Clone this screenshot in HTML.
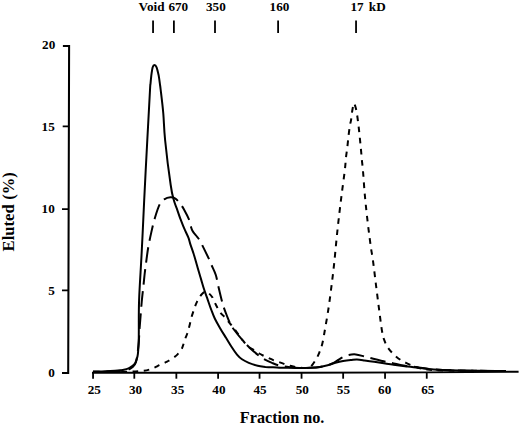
<!DOCTYPE html>
<html><head><meta charset="utf-8"><style>
html,body{margin:0;padding:0;background:#fff;}
body{width:520px;height:425px;overflow:hidden;position:relative;}
svg{position:absolute;left:0;top:0;}
text{font-family:"Liberation Serif",serif;font-weight:bold;fill:#000;}
</style></head><body>
<svg width="520" height="425" viewBox="0 0 520 425">
<g stroke="#000" fill="none" stroke-width="2">
<!-- y axis -->
<path d="M62.9 46 H69.1 L68.2 372.95 H62" stroke-width="2.05" stroke-linejoin="miter"/>
<path d="M62.7 126.45 H69 M62 209.05 H68.8 M62 290.45 H68.5" stroke-width="1.7"/>
<!-- x axis -->
<path d="M92 372.75 L300 372.8 L427 372.4 L518.6 371.7" stroke-width="1.9"/>
<path d="M93.05 372.5 V378.7" stroke-width="1.8"/><path d="M134.30 372.5 V378.7" stroke-width="1.8"/><path d="M176.35 372.5 V378.7" stroke-width="1.8"/><path d="M218.10 372.5 V378.7" stroke-width="1.8"/><path d="M259.55 372.5 V378.7" stroke-width="1.8"/><path d="M301.55 372.5 V378.7" stroke-width="1.8"/><path d="M343.15 372.5 V378.7" stroke-width="1.8"/><path d="M385.05 372.5 V378.7" stroke-width="1.8"/><path d="M426.75 372.5 V378.7" stroke-width="1.8"/>
<!-- top ticks -->
<g stroke-width="1.8"><path d="M153.05 20.4 V32.9"/><path d="M173.90 20.4 V32.9"/><path d="M215.00 20.4 V32.9"/><path d="M278.10 20.4 V32.9"/><path d="M356.05 20.4 V32.9"/></g>
</g>
<g font-size="13.2" text-anchor="end">
<text x="55.3" y="49.1">20</text>
<text x="54.8" y="131.4">15</text>
<text x="54.8" y="213.3">10</text>
<text x="54.8" y="294.6">5</text>
<text x="54.8" y="377.4">0</text>
</g>
<g font-size="13.2" text-anchor="middle">
<text x="94.25" y="393.6">25</text><text x="135.60" y="393.6">30</text><text x="177.70" y="393.6">35</text><text x="218.95" y="393.6">40</text><text x="260.05" y="393.6">45</text><text x="302.25" y="393.6">50</text><text x="343.45" y="393.6">55</text><text x="384.65" y="393.6">60</text><text x="427.85" y="393.6">65</text>
</g>
<g font-size="13.2">
<text x="138.6" y="11">Void</text>
<text x="168.4" y="11">670</text>
<text x="206" y="11">350</text>
<text x="269.6" y="11">160</text>
<text x="350.4" y="11">17</text>
<text x="368.8" y="11">kD</text>
</g>
<text x="282.1" y="422.6" font-size="16.2" text-anchor="middle">Fraction no.</text>
<text transform="translate(14.4 251.4) rotate(-90)" font-size="16.6">Eluted<tspan dx="4.6">(%)</tspan></text>
<g fill="none" stroke="#000" stroke-width="2">
<path d="M93.0 371.6 C95.0 371.6 101.3 371.4 105.0 371.3 C108.7 371.2 112.5 371.0 115.0 370.8 C117.5 370.6 118.5 370.5 120.0 370.3 C121.5 370.1 122.4 370.1 123.8 369.8 C125.2 369.5 127.1 369.0 128.5 368.4 C129.9 367.8 131.1 367.0 132.2 366.1 C133.3 365.2 134.3 364.5 135.1 363.2 C135.9 361.9 136.4 360.1 136.9 358.5 C137.4 356.9 137.6 356.2 137.9 353.8 C138.2 351.4 138.4 347.5 138.6 344.4 C138.8 341.3 138.7 342.4 138.8 335.0 C138.9 327.6 138.6 314.2 139.1 300.0 C139.6 285.8 141.0 266.7 141.8 250.0 C142.7 233.3 143.3 218.3 144.2 200.0 C145.1 181.7 146.3 158.3 147.3 140.0 C148.3 121.7 149.5 99.4 150.0 90.0 C150.5 80.6 150.3 86.2 150.5 83.8 C150.7 81.4 151.0 78.3 151.3 75.6 C151.7 72.9 152.1 69.2 152.6 67.4 C153.1 65.7 153.8 65.1 154.5 65.1 C155.2 65.1 155.9 65.7 156.6 67.4 C157.3 69.2 158.1 72.9 158.7 75.6 C159.2 78.3 159.6 81.4 159.9 83.8 C160.2 86.2 160.1 85.0 160.7 90.0 C161.3 95.0 162.6 105.2 163.3 113.5 C164.0 121.8 163.9 128.1 165.1 140.0 C166.3 151.9 169.2 175.0 170.7 185.0 C172.1 195.0 172.7 195.9 173.8 200.0 C174.9 204.1 176.0 206.3 177.1 209.4 C178.2 212.5 179.2 215.7 180.4 218.8 C181.6 221.9 182.8 225.1 184.1 228.2 C185.4 231.3 187.3 234.9 188.4 237.6 C189.5 240.3 189.5 241.7 190.4 244.4 C191.3 247.1 192.5 250.4 193.6 253.8 C194.7 257.2 195.9 261.6 196.9 265.1 C197.9 268.6 199.1 272.6 199.8 275.0 C200.5 277.4 200.4 277.1 201.1 279.4 C201.8 281.7 202.9 285.7 203.9 288.8 C204.9 291.9 206.0 294.8 207.2 298.2 C208.4 301.6 209.8 306.0 211.1 309.4 C212.4 312.8 213.4 315.7 214.9 318.8 C216.4 321.9 218.2 325.0 220.1 328.2 C221.9 331.4 224.0 334.6 226.0 337.8 C228.0 341.0 230.2 344.7 232.0 347.5 C233.8 350.3 235.3 352.6 237.0 354.6 C238.7 356.6 240.0 357.9 242.0 359.3 C244.0 360.7 246.2 361.8 248.8 362.9 C251.4 364.0 254.9 365.1 257.7 365.8 C260.5 366.5 262.8 366.6 265.4 366.9 C268.0 367.1 270.5 367.2 273.1 367.3 C275.7 367.4 278.2 367.6 280.8 367.7 C283.4 367.8 285.4 367.6 288.5 367.7 C291.6 367.8 295.5 368.0 299.2 368.0 C302.9 368.0 307.3 367.9 310.8 367.7 C314.3 367.5 317.2 367.3 320.0 366.9 C322.8 366.5 325.1 365.9 327.7 365.2 C330.3 364.5 332.8 363.5 335.4 362.8 C338.0 362.1 340.5 361.5 343.1 361.0 C345.7 360.5 348.5 360.2 350.8 360.0 C353.1 359.8 354.7 359.4 357.0 359.5 C359.3 359.6 361.7 360.0 364.6 360.4 C367.5 360.8 371.0 361.3 374.2 361.8 C377.4 362.3 380.6 362.8 383.8 363.3 C387.0 363.8 390.0 364.2 393.5 364.7 C397.0 365.2 401.6 365.8 405.0 366.2 C408.4 366.6 408.8 366.7 413.6 367.2 C418.4 367.7 427.7 368.9 433.8 369.4 C439.9 369.9 442.3 370.1 450.0 370.3 C457.7 370.5 470.7 370.7 480.0 370.8 C489.3 370.9 501.7 371.0 506.0 371.0"/>
<path d="M93.00 371.80 C96.67 371.72 109.50 371.57 115.00 371.30 C120.50 371.03 123.17 370.83 126.00 370.20 C128.83 369.57 130.33 368.87 132.00 367.50 C133.67 366.13 134.92 365.75 136.00 362.00 C137.08 358.25 137.90 350.63 138.50 345.00 C139.10 339.37 139.22 333.50 139.60 328.20 C139.98 322.90 140.42 317.90 140.80 313.20 C141.18 308.50 141.45 304.65 141.90 300.00 C142.35 295.35 143.03 289.72 143.50 285.30 C143.97 280.88 144.25 277.42 144.70 273.50 C145.15 269.58 145.60 266.22 146.20 261.80 C146.80 257.38 147.45 251.90 148.30 247.00 C149.15 242.10 150.22 237.20 151.30 232.40 C152.38 227.60 153.38 222.92 154.80 218.20 C156.22 213.48 158.23 207.25 159.80 204.10 C161.37 200.95 162.43 200.43 164.20 199.30 C165.97 198.17 168.53 197.42 170.40 197.30 C172.27 197.18 173.80 197.57 175.40 198.60 C177.00 199.63 178.57 201.68 180.00 203.50 C181.43 205.32 182.45 206.72 184.00 209.50 C185.55 212.28 188.18 217.45 189.30 220.20 C190.42 222.95 190.15 224.18 190.70 226.00 C191.25 227.82 191.72 229.52 192.60 231.10 C193.48 232.68 194.88 234.07 196.00 235.50 C197.12 236.93 198.28 238.13 199.30 239.70 C200.32 241.27 200.45 241.60 202.10 244.90 C203.75 248.20 207.63 256.13 209.20 259.50 C210.77 262.87 210.40 262.52 211.50 265.10 C212.60 267.68 214.63 271.37 215.80 275.00 C216.97 278.63 217.42 282.32 218.50 286.90 C219.58 291.48 221.35 298.88 222.30 302.50 C223.25 306.12 223.42 306.35 224.20 308.60 C224.98 310.85 225.97 313.43 227.00 316.00 C228.03 318.57 229.32 321.83 230.40 324.00 C231.48 326.17 231.47 326.28 233.50 329.00 C235.53 331.72 239.92 337.18 242.60 340.30 C245.28 343.42 246.83 345.10 249.60 347.70 C252.37 350.30 256.63 353.90 259.20 355.90 C261.77 357.90 262.87 358.53 265.00 359.70 C267.13 360.87 269.60 361.93 272.00 362.90 C274.40 363.87 276.47 364.78 279.40 365.50 C282.33 366.22 286.30 366.78 289.60 367.20 C292.90 367.62 295.80 367.90 299.20 368.00 C302.60 368.10 306.53 367.97 310.00 367.80 C313.47 367.63 317.05 367.42 320.00 367.00 C322.95 366.58 325.65 365.88 327.70 365.30 C329.75 364.72 330.67 364.32 332.30 363.50 C333.93 362.68 335.77 361.43 337.50 360.40 C339.23 359.37 340.87 358.20 342.70 357.30 C344.53 356.40 346.32 355.48 348.50 355.00 C350.68 354.52 353.12 354.15 355.80 354.40 C358.48 354.65 362.17 355.90 364.60 356.50 C367.03 357.10 366.87 357.12 370.40 358.00 C373.93 358.88 382.28 361.00 385.80 361.80 C389.32 362.60 388.30 362.15 391.50 362.80 C394.70 363.45 401.32 365.03 405.00 365.70 C408.68 366.37 408.80 366.18 413.60 366.80 C418.40 367.42 426.07 368.78 433.80 369.40 C441.53 370.02 447.97 370.23 460.00 370.50 C472.03 370.77 498.33 370.92 506.00 371.00" stroke-dasharray="15.50 6.69" stroke-dashoffset="8.71"/>
<path d="M118.00 371.80 C120.33 371.77 127.70 371.77 132.00 371.60 C136.30 371.43 140.80 371.17 143.80 370.80 C146.80 370.43 148.13 369.98 150.00 369.40 C151.87 368.82 153.47 368.00 155.00 367.30 C156.53 366.60 157.53 365.98 159.20 365.20 C160.87 364.42 163.50 363.30 165.00 362.60 C166.50 361.90 166.70 361.88 168.20 361.00 C169.70 360.12 172.40 358.45 174.00 357.30 C175.60 356.15 176.55 355.43 177.80 354.10 C179.05 352.77 180.63 350.72 181.50 349.30 C182.37 347.88 182.38 347.35 183.00 345.60 C183.62 343.85 184.48 340.82 185.20 338.80 C185.92 336.78 186.60 335.62 187.30 333.50 C188.00 331.38 188.72 328.77 189.40 326.10 C190.08 323.43 190.72 320.02 191.40 317.50 C192.08 314.98 192.88 312.87 193.50 311.00 C194.12 309.13 194.48 307.90 195.10 306.30 C195.72 304.70 196.38 303.03 197.20 301.40 C198.02 299.77 199.12 297.82 200.00 296.50 C200.88 295.18 201.70 294.27 202.50 293.50 C203.30 292.73 204.05 292.10 204.80 291.90 C205.55 291.70 206.27 292.02 207.00 292.30" stroke-dasharray="5.60 5.61" stroke-dashoffset="7.84"/>
<path d="M207.00 292.30 C207.73 292.58 208.32 292.78 209.20 293.60 C210.08 294.42 211.37 295.70 212.30 297.20 C213.23 298.70 214.03 301.02 214.80 302.60 C215.57 304.18 215.98 305.03 216.90 306.70 C217.82 308.37 219.15 311.02 220.30 312.60 C221.45 314.18 222.18 314.38 223.80 316.20 C225.42 318.02 227.97 321.03 230.00 323.50 C232.03 325.97 233.90 328.22 236.00 331.00 C238.10 333.78 240.65 337.70 242.60 340.20 C244.55 342.70 245.88 344.38 247.70 346.00 C249.52 347.62 251.58 348.65 253.50 349.90 C255.42 351.15 257.60 352.57 259.20 353.50 C260.80 354.43 261.57 354.77 263.10 355.50 C264.63 356.23 266.72 357.13 268.40 357.90 C270.08 358.67 271.52 359.43 273.20 360.10 C274.88 360.77 276.82 361.32 278.50 361.90 C280.18 362.48 281.38 362.95 283.30 363.60 C285.22 364.25 287.08 365.10 290.00 365.80 C292.92 366.50 298.05 367.43 300.80 367.80 C303.55 368.17 305.00 368.08 306.50 368.00 C308.00 367.92 308.77 367.92 309.80 367.30 C310.83 366.68 311.58 365.77 312.70 364.30 C313.82 362.83 315.38 360.50 316.50 358.50 C317.62 356.50 318.43 354.77 319.40 352.30 C320.37 349.83 321.42 347.25 322.30 343.70 C323.18 340.15 323.63 337.10 324.70 331.00 C325.77 324.90 327.52 315.02 328.70 307.10 C329.88 299.18 330.90 290.67 331.80 283.50 C332.70 276.33 333.13 273.22 334.10 264.10 C335.07 254.98 336.42 239.78 337.60 228.80 C338.78 217.82 339.98 208.10 341.20 198.20 C342.42 188.30 344.12 176.08 344.90 169.40 C345.68 162.72 345.50 161.75 345.90 158.10 C346.30 154.45 346.87 151.15 347.30 147.50 C347.73 143.85 348.07 139.85 348.50 136.20 C348.93 132.55 349.48 128.23 349.90 125.60 C350.32 122.97 350.68 122.33 351.00 120.40 C351.32 118.47 351.55 115.85 351.80 114.00 C352.05 112.15 352.25 110.68 352.50 109.30 C352.75 107.92 353.02 106.58 353.30 105.70 C353.58 104.82 353.92 104.05 354.20 104.00" stroke-dasharray="5.60 5.61" stroke-dashoffset="8.63"/>
<path d="M354.20 104.00 C354.48 103.95 354.68 104.52 355.00 105.40 C355.32 106.28 355.73 107.62 356.10 109.30 C356.47 110.98 356.78 112.67 357.20 115.50 C357.62 118.33 358.17 122.62 358.60 126.30 C359.03 129.98 359.42 133.83 359.80 137.60 C360.18 141.37 360.55 145.13 360.90 148.90 C361.25 152.67 361.55 156.52 361.90 160.20 C362.25 163.88 362.53 165.45 363.00 171.00 C363.47 176.55 364.02 185.82 364.70 193.50 C365.38 201.18 366.12 208.47 367.10 217.10 C368.08 225.73 369.63 238.15 370.60 245.30 C371.57 252.45 372.03 253.63 372.90 260.00 C373.77 266.37 374.82 275.65 375.80 283.50 C376.78 291.35 377.78 299.30 378.80 307.10 C379.82 314.90 380.98 324.78 381.90 330.30 C382.82 335.82 383.22 337.20 384.30 340.20 C385.38 343.20 386.37 345.52 388.40 348.30 C390.43 351.08 393.57 354.47 396.50 356.90 C399.43 359.33 402.47 361.13 406.00 362.90 C409.53 364.67 414.18 366.40 417.70 367.50 C421.22 368.60 421.72 368.98 427.10 369.50 C432.48 370.02 436.85 370.35 450.00 370.60 C463.15 370.85 496.67 370.93 506.00 371.00" stroke-dasharray="5.60 5.61" stroke-dashoffset="10.42"/>
</g>
</svg>
</body></html>
